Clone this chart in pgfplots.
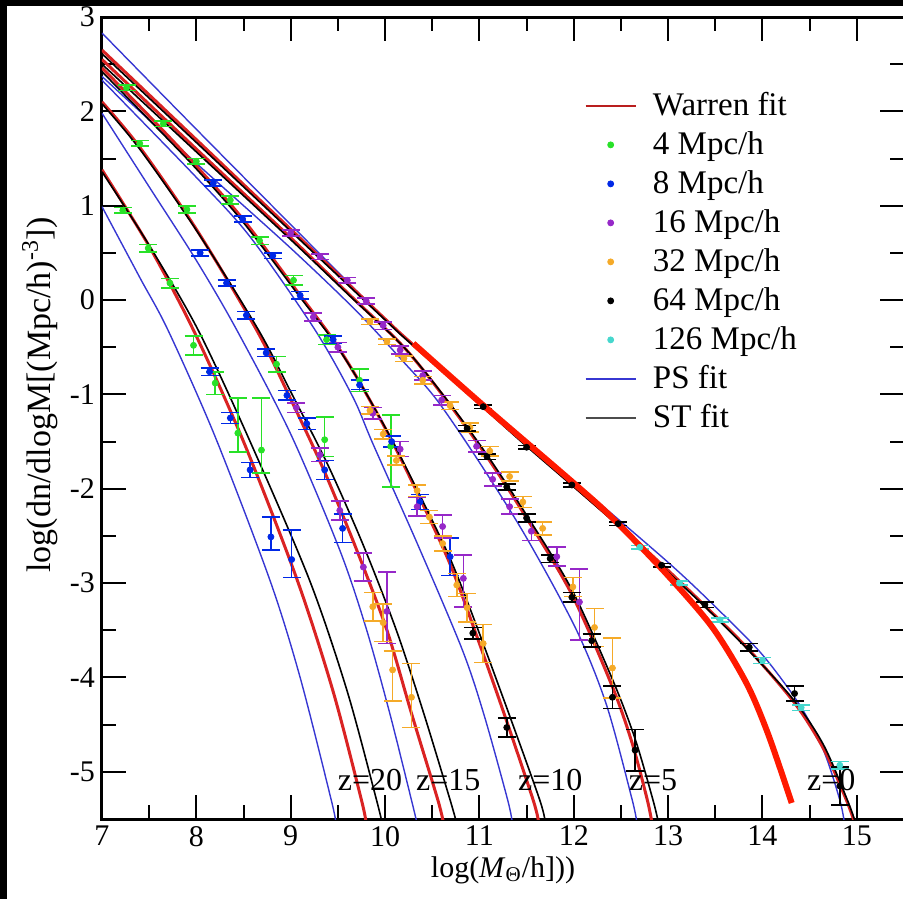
\documentclass[border=0pt]{standalone}
\usepackage{fontspec}
\setmainfont{Liberation Serif}
\usepackage{pgfplots}
\pgfplotsset{compat=1.18}
\definecolor{cwred}{RGB}{218,35,35}
\definecolor{cthick}{RGB}{255,25,0}
\definecolor{cps}{RGB}{55,55,210}
\definecolor{cgreen}{RGB}{40,225,40}
\definecolor{cdblue}{RGB}{0,40,230}
\definecolor{cpurple}{RGB}{150,40,200}
\definecolor{corange}{RGB}{245,170,40}
\definecolor{ccyan}{RGB}{70,215,205}
\pgfplotsset{
  ps/.style={color=cps, line width=0.7pt, smooth, no markers, forget plot},
  wr/.style={color=cwred, line width=1.5pt, smooth, no markers, forget plot},
  st/.style={color=black, line width=0.8pt, smooth, no markers, forget plot},
  dat/.style={only marks, mark=*, mark size=1.5pt, forget plot,
    error bars/.cd, y dir=both, y explicit,
    error bar style={line width=0.8pt},
    error mark options={rotate=90, mark size=4.5pt, line width=0.8pt}},
  limg/.style={legend image code/.code={\draw[##1] (0pt,0pt) -- (25pt,0pt);}},
  mimg/.style={legend image code/.code={\draw[##1] plot coordinates {(12.5pt,0pt)};}},
}
\begin{document}
\begin{tikzpicture}[font=\fontsize{15}{17}\selectfont]
\begin{axis}[
  scale only axis, width=401pt, height=401pt,
  xmin=7, xmax=15.5, ymin=-5.5, ymax=3,
  xtick={7,...,15}, ytick={-5,-4,...,3},
  yticklabels={-5,-4,-3,-2,-1,0,1,2,3},
  minor x tick num=1, minor y tick num=1,
  tick align=inside, major tick length=12pt, minor tick length=7pt,
  tick style={black, line width=1pt},
  axis line style={line width=1.5pt},
  /pgf/number format/assume math mode=true,
  xlabel={log(\textit{M}\textsubscript{Θ}/h]))},
  every axis x label/.style={at={(axis description cs:0.5,-0.0636)}, anchor=center},
  legend cell align=left,
  legend style={at={(axis description cs:0.5935,0.919)}, anchor=north west, draw=none, fill=none,
    font=\fontsize{16.5}{18}\selectfont,
    row sep=0pt, nodes={inner sep=2pt, text height=12.5pt, text depth=3pt},
    /tikz/every odd column/.append style={column sep=6pt}},
]
% legend
\addlegendimage{color=cwred!85!black, line width=1.3pt, limg}
\addlegendentry{Warren fit}
\addlegendimage{draw=none, mark=*, mark size=1.5pt, color=cgreen, mimg}
\addlegendentry{4 Mpc/h}
\addlegendimage{draw=none, mark=*, mark size=1.5pt, color=cdblue, mimg}
\addlegendentry{8 Mpc/h}
\addlegendimage{draw=none, mark=*, mark size=1.5pt, color=cpurple, mimg}
\addlegendentry{16 Mpc/h}
\addlegendimage{draw=none, mark=*, mark size=1.5pt, color=corange, mimg}
\addlegendentry{32 Mpc/h}
\addlegendimage{draw=none, mark=*, mark size=1.5pt, color=black, mimg}
\addlegendentry{64 Mpc/h}
\addlegendimage{draw=none, mark=*, mark size=1.5pt, color=ccyan, mimg}
\addlegendentry{126 Mpc/h}
\addlegendimage{color=cps, line width=0.8pt, limg}
\addlegendentry{PS fit}
\addlegendimage{color=black!70, line width=0.9pt, limg}
\addlegendentry{ST fit}

% ---- PS fits
\addplot[ps] coordinates {(7,2.83)(8,1.81)(9,0.8)(10,-0.2)(10.5,-0.64)(11,-1.06)(12,-1.92)(13,-2.78)(13.5,-3.25)(14,-3.76)(14.4,-4.3)(14.65,-4.78)(14.82,-5.3)(14.87,-5.55)};
\addplot[ps] coordinates {(7,2.37)(8,1.45)(9,0.55)(9.7,-0.12)(10.2,-0.66)(10.55,-1.06)(11.0,-1.72)(11.5,-2.52)(12.03,-3.5)(12.35,-4.3)(12.62,-5.3)(12.67,-5.55)};
\addplot[ps] coordinates {(7,2.33)(8,1.3)(8.57,0.67)(9.26,-0.32)(9.66,-1.03)(9.87,-1.52)(10.35,-2.6)(10.82,-3.71)(11.05,-4.4)(11.3,-5.3)(11.35,-5.55)};
\addplot[ps] coordinates {(7,1.98)(7.5,1.2)(8,0.42)(8.43,-0.32)(9.0,-1.42)(9.52,-2.65)(9.8,-3.48)(10.05,-4.38)(10.28,-5.3)(10.34,-5.55)};
\addplot[ps] coordinates {(7,0.99)(7.4,0.24)(7.7,-0.32)(8.2,-1.45)(8.78,-2.97)(9.1,-4.0)(9.43,-5.3)(9.48,-5.55)};
% ---- Warren fits
\addplot[wr] coordinates {(7,2.65)(8,1.7)(9,0.75)(10,-0.2)(10.26,-0.44)(11.04,-1.12)(11.5,-1.53)(12,-1.97)(12.47,-2.38)(12.93,-2.8)(13.39,-3.24)(13.86,-3.71)(14.34,-4.27)(14.65,-4.76)(14.89,-5.3)(14.98,-5.55)};
\addplot[wr] coordinates {(7,2.55)(8,1.6)(9,0.66)(9.63,0.05)(10.2,-0.5)(10.65,-1.06)(11.08,-1.66)(11.5,-2.31)(11.98,-3.12)(12.41,-4.1)(12.62,-4.7)(12.78,-5.3)(12.83,-5.55)};
\addplot[wr] coordinates {(7,2.46)(7.5,1.95)(8,1.42)(8.5,0.85)(9.1,0.05)(9.45,-0.42)(9.73,-0.87)(10.05,-1.45)(10.37,-2.1)(10.69,-2.8)(10.95,-3.5)(11.25,-4.35)(11.57,-5.3)(11.63,-5.55)};
\addplot[wr] coordinates {(7,2.1)(7.4,1.62)(8,0.75)(8.64,-0.32)(9.0,-1.05)(9.35,-1.8)(9.7,-2.65)(10.02,-3.5)(10.28,-4.38)(10.56,-5.3)(10.62,-5.55)};
\addplot[wr] coordinates {(7,1.38)(7.5,0.57)(7.97,-0.32)(8.5,-1.5)(9.07,-2.97)(9.45,-4.15)(9.75,-5.3)(9.8,-5.55)};
% ---- ST fits
\addplot[st] coordinates {(7,2.61)(8,1.67)(9,0.73)(10,-0.21)(10.26,-0.45)(11.04,-1.14)(11.5,-1.55)(12,-1.98)(12.47,-2.39)(12.93,-2.82)(13.39,-3.25)(13.86,-3.72)(14.34,-4.25)(14.65,-4.72)(14.9,-5.3)(14.99,-5.55)};
\addplot[st] coordinates {(7,2.5)(8,1.57)(9,0.64)(9.63,0.04)(10.2,-0.5)(10.65,-1.05)(11.08,-1.64)(11.5,-2.28)(11.98,-3.07)(12.41,-4.02)(12.65,-4.65)(12.84,-5.3)(12.9,-5.55)};
\addplot[st] coordinates {(7,2.42)(7.5,1.91)(8,1.39)(8.5,0.82)(9.1,0.03)(9.45,-0.43)(9.73,-0.87)(10.05,-1.44)(10.37,-2.07)(10.69,-2.74)(10.95,-3.4)(11.3,-4.35)(11.64,-5.3)(11.7,-5.55)};
\addplot[st] coordinates {(7,2.08)(7.4,1.6)(8,0.74)(8.66,-0.32)(9.03,-1.03)(9.4,-1.76)(9.77,-2.6)(10.12,-3.5)(10.41,-4.38)(10.69,-5.3)(10.76,-5.55)};
\addplot[st] coordinates {(7,1.36)(7.5,0.58)(8.02,-0.32)(8.57,-1.5)(9.2,-2.97)(9.6,-4.15)(9.91,-5.3)(9.97,-5.55)};

% ---- data: 4 Mpc/h
\addplot[color=cgreen, dat] coordinates {
 (7.26,2.25) +- (0,0.03) (7.65,1.87) +- (0,0.03) (8.0,1.47) +- (0,0.03) (8.36,1.06) +- (0,0.04)
 (8.67,0.63) +- (0,0.04) (9.03,0.21) +- (0,0.05) (9.38,-0.42) +- (0,0.05) (9.73,-0.85) +- (0,0.12)
 (10.06,-1.55) += (0,0.33) -= (0,0.43)
 (7.40,1.66) +- (0,0.03) (7.9,0.96) +- (0,0.04) (8.85,-0.68) +- (0,0.08)
 (9.36,-1.48) += (0,0.24) -= (0,0.18)
 (7.22,0.95) +- (0,0.03) (7.49,0.55) +- (0,0.04) (7.72,0.18) +- (0,0.05) (7.97,-0.48) +- (0,0.1)
 (8.2,-0.88) +- (0,0.12) (8.44,-1.41) += (0,0.37) -= (0,0.2) (8.69,-1.59) += (0,0.55) -= (0,0.24)
};
% 8 Mpc/h
\addplot[color=cdblue, dat] coordinates {
 (8.14,-0.76) +- (0,0.04) (8.36,-1.25) +- (0,0.06) (8.57,-1.80) +- (0,0.08)
 (8.79,-2.51) += (0,0.21) -= (0,0.14) (9.01,-2.75) += (0,0.31) -= (0,0.19)
 (8.04,0.5) +- (0,0.03) (8.32,0.18) +- (0,0.03) (8.53,-0.16) +- (0,0.04) (8.74,-0.56) +- (0,0.04)
 (8.96,-1.01) +- (0,0.05) (9.17,-1.31) +- (0,0.06) (9.36,-1.8) +- (0,0.1) (9.55,-2.42) +- (0,0.15)
 (8.18,1.24) +- (0,0.03) (8.49,0.86) +- (0,0.03) (8.81,0.47) +- (0,0.03) (9.10,0.05) +- (0,0.04)
 (9.45,-0.42) +- (0,0.04) (9.73,-0.9) +- (0,0.05) (10.07,-1.5) +- (0,0.06) (10.37,-2.14) +- (0,0.08)
 (10.69,-2.72) +- (0,0.2)
};
% 16 Mpc/h
\addplot[color=cpurple, dat] coordinates {
 (9.0,0.71) +- (0,0.03) (9.31,0.46) +- (0,0.03) (9.6,0.21) +- (0,0.03) (9.8,-0.01) +- (0,0.03)
 (9.98,-0.27) +- (0,0.04) (10.16,-0.53) +- (0,0.04) (10.4,-0.8) +- (0,0.05) (10.6,-1.06) +- (0,0.05)
 (10.97,-1.55) +- (0,0.06) (11.14,-1.9) +- (0,0.07) (11.32,-2.19) +- (0,0.08) (11.55,-2.45) +- (0,0.1)
 (11.82,-2.72) +- (0,0.1) (12.06,-3.2) += (0,0.35) -= (0,0.4)
 (9.24,-0.18) +- (0,0.04) (9.5,-0.5) +- (0,0.05) (9.87,-1.2) +- (0,0.06) (10.16,-1.58) +- (0,0.08)
 (10.34,-2.19) +- (0,0.1) (10.61,-2.4) +- (0,0.12) (10.83,-2.95) += (0,0.25) -= (0,0.3)
 (9.06,-1.14) +- (0,0.05) (9.31,-1.64) +- (0,0.07) (9.52,-2.23) +- (0,0.1) (9.77,-2.83) +- (0,0.15)
 (10.02,-3.3) += (0,0.42) -= (0,0.34)
};
% 32 Mpc/h
\addplot[color=corange, dat] coordinates {
 (9.87,-3.25) +- (0,0.15) (9.98,-3.42) +- (0,0.2) (10.08,-3.92) += (0,0.2) -= (0,0.33)
 (10.28,-4.21) += (0,0.36) -= (0,0.32)
 (9.84,-1.17) +- (0,0.04) (9.98,-1.42) +- (0,0.05) (10.12,-1.7) +- (0,0.05) (10.34,-2.02) +- (0,0.06)
 (10.47,-2.3) +- (0,0.07) (10.61,-2.58) +- (0,0.08) (10.76,-3.02) +- (0,0.12) (10.87,-3.26) +- (0,0.15)
 (11.04,-3.64) +- (0,0.2)
 (9.84,-0.23) +- (0,0.03) (10.02,-0.44) +- (0,0.03) (10.2,-0.62) +- (0,0.03) (10.4,-0.85) +- (0,0.04)
 (10.69,-1.12) +- (0,0.04) (10.9,-1.35) +- (0,0.05) (11.11,-1.6) +- (0,0.05) (11.32,-1.87) +- (0,0.05)
 (11.46,-2.14) +- (0,0.06) (11.67,-2.42) +- (0,0.07) (11.99,-3.04) +- (0,0.1) (12.22,-3.47) +- (0,0.2)
 (12.41,-3.9) +- (0,0.32)
};
% 64 Mpc/h
\addplot[color=black, dat] coordinates {
 (10.93,-3.53) +- (0,0.06) (11.29,-4.53) +- (0,0.1)
 (10.87,-1.36) +- (0,0.03) (11.08,-1.66) +- (0,0.03) (11.29,-1.98) +- (0,0.03) (11.5,-2.31) +- (0,0.04)
 (11.75,-2.74) +- (0,0.04) (11.98,-3.15) +- (0,0.05) (12.19,-3.61) +- (0,0.07) (12.41,-4.21) +- (0,0.12)
 (12.65,-4.77) +- (0,0.22)
 (11.04,-1.13) +- (0,0.02) (11.5,-1.56) +- (0,0.02) (11.98,-1.96) +- (0,0.02) (12.47,-2.37) +- (0,0.02)
 (12.93,-2.81) +- (0,0.02) (13.39,-3.23) +- (0,0.03) (13.86,-3.68) +- (0,0.04) (14.34,-4.17) +- (0,0.08)
 (14.82,-5.15) +- (0,0.2)
};
% 126 Mpc/h
\addplot[color=ccyan, dat] coordinates {
 (12.7,-2.62) +- (0,0.02) (13.12,-3.0) +- (0,0.02) (13.55,-3.39) +- (0,0.02) (14.0,-3.82) +- (0,0.03)
 (14.41,-4.32) +- (0,0.03) (14.82,-4.93) +- (0,0.04)
};
% thick red
\addplot[color=cthick, line width=3pt, smooth, no markers, forget plot] coordinates {
 (10.3,-0.46)(11,-1.08)(12,-1.94)(12.41,-2.31)(12.98,-2.9)(13.47,-3.47)(13.83,-4.06)(14.06,-4.6)(14.31,-5.33)};

\begin{scope}[font=\fontsize{16}{18}\selectfont]
\node at (axis cs:9.84,-5.09) {z=20};
\node at (axis cs:10.67,-5.09) {z=15};
\node at (axis cs:11.75,-5.09) {z=10};
\node at (axis cs:12.84,-5.09) {z=5};
\node at (axis cs:14.73,-5.09) {z=0};
\end{scope}
\end{axis}
\node[rotate=90, anchor=center, font=\fontsize{17}{19}\selectfont] at (-31pt,212pt) {log(dn/dlogM[(Mpc/h)\textsuperscript{-3}])};
\fill[black] (-51pt,406.5pt) rectangle (400.5pt,409.5pt);
\fill[black] (-51pt,-40pt) rectangle (-47.5pt,409.5pt);
\pgfresetboundingbox
\useasboundingbox (-51pt,-40pt) rectangle (400.5pt,409.5pt);
\end{tikzpicture}
\end{document}
